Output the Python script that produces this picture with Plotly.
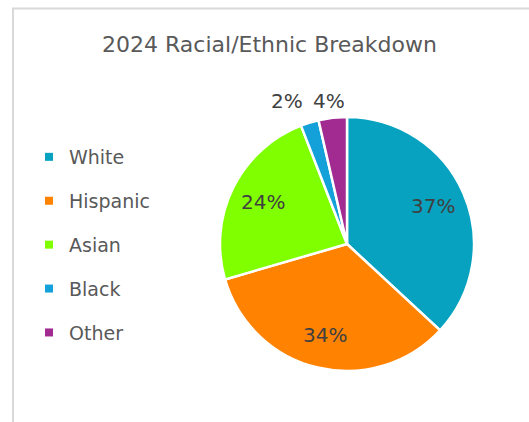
import math
import plotly.graph_objects as go

# Data
categories = ["White", "Hispanic", "Asian", "Black", "Other"]
values = [36.9, 33.6, 23.6, 2.3, 3.6]
colors = ["#06A2BF", "#FF8200", "#80FF00", "#14A0D9", "#A12B91"]
label_outside = [False, False, False, True, True]
title_text = "2024 Racial/Ethnic Breakdown"

W, H = 529, 422
FONT = "DejaVu Sans"

# pie geometry (pixels)
CX, CY, R = 347, 244, 127
# positions of the outside labels (pixels), as Excel's best-fit places them
OUT_LABEL_POS = {"Black": (287, 101), "Other": (329, 101)}

fig = go.Figure()

fig.add_trace(go.Pie(
    labels=categories,
    values=values,
    sort=False,
    direction="clockwise",
    rotation=0,
    marker=dict(colors=colors, line=dict(color="white", width=2.5)),
    textinfo="none",
    showlegend=False,
    domain=dict(x=[(CX - R) / W, (CX + R) / W], y=[1 - (CY + R) / H, 1 - (CY - R) / H]),
    hoverinfo="label+percent",
))

# data labels (percent) placed along each slice bisector
annotations = []
total = sum(values)
cum = 0.0
for cat, v, outside in zip(categories, values, label_outside):
    mid = math.radians((cum + v / 2) / total * 360)
    cum += v
    pct = f"{round(v / total * 100)}%"
    if outside:
        xp, yp = OUT_LABEL_POS[cat]
    else:
        rl = 0.74 * R
        xp = CX + rl * math.sin(mid)
        yp = CY - rl * math.cos(mid)
    annotations.append(dict(
        text=pct, x=xp / W, y=1 - yp / H, xref="paper", yref="paper",
        xanchor="center", yanchor="middle", showarrow=False,
        font=dict(family=FONT, size=20, color="#404040"),
    ))

# legend entries (one group per category to control spacing)
for cat, col in zip(categories, colors):
    fig.add_trace(go.Scatter(
        x=[None], y=[None], mode="markers", name=cat, legendgroup=cat,
        marker=dict(symbol="square", size=8, color=col),
        showlegend=True,
    ))

fig.update_layout(
    width=W, height=H,
    margin=dict(l=0, r=0, t=0, b=0),
    paper_bgcolor="white",
    plot_bgcolor="white",
    xaxis=dict(visible=False),
    yaxis=dict(visible=False),
    title=dict(text=title_text, x=269.5 / W, xanchor="center", xref="container",
               y=1 - 44 / H, yanchor="middle", yref="container",
               font=dict(family=FONT, size=22, color="#595959")),
    legend=dict(x=29 / W, xanchor="left", y=1 - 138 / H, yanchor="top",
                font=dict(family=FONT, size=19, color="#595959"),
                tracegroupgap=16.2, traceorder="grouped",
                bgcolor="rgba(0,0,0,0)", itemsizing="trace"),
    annotations=annotations,
    shapes=[dict(type="rect", xref="paper", yref="paper",
                 x0=13 / W, x1=1.05, y0=-0.05, y1=1 - 8.5 / H,
                 line=dict(color="#D9D9D9", width=2), fillcolor="rgba(0,0,0,0)")],
)

fig.write_html("out.html", config={"displayModeBar": False},
               post_script="document.body.style.margin='0';")
